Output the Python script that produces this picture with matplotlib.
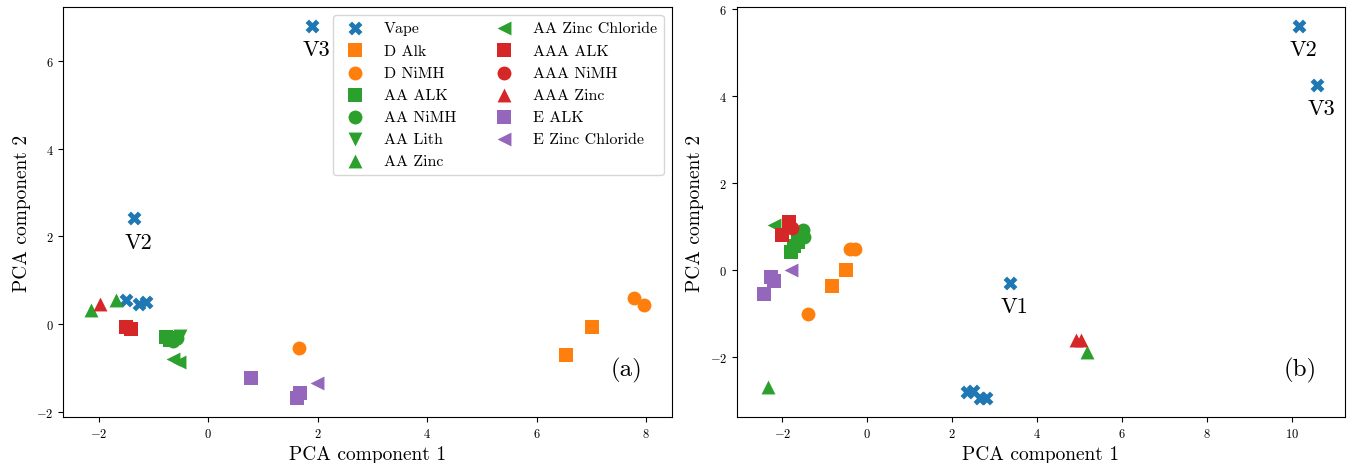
import matplotlib
matplotlib.use("Agg")
import matplotlib.pyplot as plt

plt.rcParams['font.family'] = 'serif'
plt.rcParams['font.serif'] = ['cmr10']
plt.rcParams['mathtext.fontset'] = 'cm'
plt.rcParams['axes.formatter.use_mathtext'] = True

# series: name, marker, colour
names = ['Vape', 'D Alk', 'D NiMH', 'AA ALK', 'AA NiMH', 'AA Lith', 'AA Zinc',
         'AA Zinc Chloride', 'AAA ALK', 'AAA NiMH', 'AAA Zinc', 'E ALK', 'E Zinc Chloride']
markers = ['X', 's', 'o', 's', 'o', 'v', '^', '<', 's', 'o', '^', 's', '<']
colors = ['C0', 'C1', 'C1', 'C2', 'C2', 'C2', 'C2', 'C2', 'C3', 'C3', 'C3', 'C4', 'C4']

# panel (a)
xa = [
    [1.90, -1.35, -1.50, -1.26, -1.13],
    [7.01, 6.53],
    [7.77, 7.96, 1.66],
    [-0.77, -0.62, -0.70],
    [-0.57, -0.65],
    [-0.51],
    [-2.14, -1.68],
    [-0.64, -0.53],
    [-1.50, -1.41],
    [-1.45],
    [-1.98],
    [0.78, 1.68, 1.63],
    [1.99],
]
ya = [
    [6.81, 2.41, 0.55, 0.46, 0.50],
    [-0.08, -0.71],
    [0.59, 0.44, -0.56],
    [-0.30, -0.32, -0.36],
    [-0.33, -0.38],
    [-0.27],
    [0.32, 0.54],
    [-0.79, -0.87],
    [-0.07, -0.12],
    [-0.09],
    [0.45],
    [-1.23, -1.58, -1.70],
    [-1.34],
]
labels_a = {0: 'V3', 1: 'V2'}

# panel (b)
xb = [
    [10.16, 10.59, 3.36, 2.35, 2.50, 2.65, 2.80],
    [-0.50, -0.82],
    [-0.40, -0.28, -1.39],
    [-1.80, -1.72, -1.64],
    [-1.52, -1.48, -1.58],
    [-1.60],
    [5.18, -2.33],
    [-2.19],
    [-1.84, -2.00],
    [-1.76],
    [4.92, 5.03],
    [-2.27, -2.19, -2.42],
    [-1.80],
]
yb = [
    [5.61, 4.25, -0.30, -2.80, -2.78, -2.95, -2.93],
    [0.0, -0.37],
    [0.48, 0.49, -1.02],
    [0.42, 0.54, 0.64],
    [0.92, 0.75, 0.85],
    [0.80],
    [-1.89, -2.68],
    [1.02],
    [1.10, 0.81],
    [0.96],
    [-1.62, -1.60],
    [-0.17, -0.25, -0.55],
    [0.0],
]
labels_b = {0: 'V2', 1: 'V3', 2: 'V1'}

fig, axes = plt.subplots(1, 2, figsize=(13.49, 4.64), dpi=100)
fig.subplots_adjust(left=0.047, right=0.997, top=0.983, bottom=0.099, wspace=0.107)


def draw(ax, xs, ys, vlabels, tag):
    for i in range(len(names)):
        ax.scatter(xs[i], ys[i], marker=markers[i], c=colors[i], s=100,
                   linewidths=0, label=names[i])
    for k, lab in vlabels.items():
        ax.annotate(lab, (xs[0][k], ys[0][k]), xytext=(3, -17),
                    textcoords='offset points', ha='center', va='center', fontsize=16)
    ax.text(0.926, 0.117, tag, transform=ax.transAxes, ha='center', va='center', fontsize=18)
    ax.set_xlabel('PCA component 1', fontsize=14)
    ax.set_ylabel('PCA component 2', fontsize=14)
    ax.tick_params(labelsize=9)


draw(axes[0], xa, ya, labels_a, '(a)')
draw(axes[1], xb, yb, labels_b, '(b)')
axes[0].legend(loc='upper right', ncol=2, fontsize=11.5)

fig.savefig('out.png', dpi=100)
